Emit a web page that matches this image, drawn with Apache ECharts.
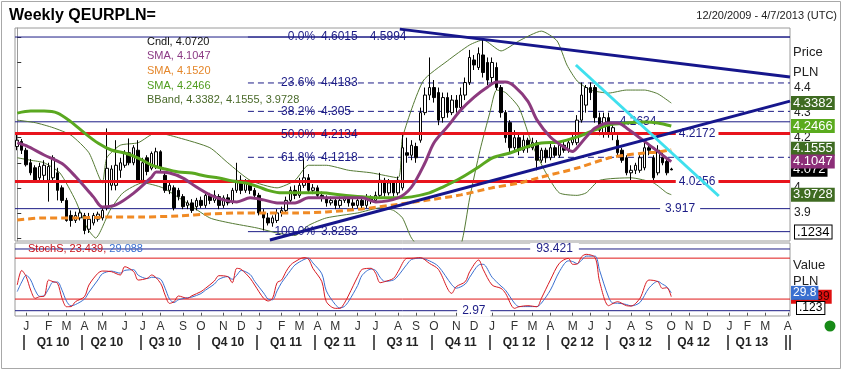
<!DOCTYPE html>
<html><head><meta charset="utf-8">
<script src="https://cdn.jsdelivr.net/npm/echarts@6/dist/echarts.min.js"></script>
<style>html,body{margin:0;padding:0;background:#fff}#c{width:843px;height:371px}</style>
</head><body><div id="c"></div>
<script>
// ---------------- DATA ----------------
const firstWeek = '2009-12-20';
const weekTotal = 173; // 12/20/2009 .. 4/7/2013
const monthLetters = ['J','F','M','A','M','J','J','A','S','O','N','D'];
const quarterNames = ['Q1 10','Q2 10','Q3 10','Q4 10','Q1 11','Q2 11','Q3 11','Q4 11','Q1 12','Q2 12','Q3 12','Q4 12','Q1 13'];

const opens = [4.165,4.185,4.150,4.100,4.080,4.040,4.050,4.030,4.040,4.060,
4.000,3.950,3.890,3.870,3.880,3.890,3.835,3.860,3.875,3.880,
3.920,4.010,4.010,4.070,4.090,4.140,4.100,4.150,4.030,4.120,
4.078,4.085,4.144,4.050,3.990,4.000,3.990,3.965,3.930,3.940,
3.925,3.950,3.930,3.970,3.950,3.965,3.930,3.960,3.945,3.990,
4.030,3.990,4.020,3.990,3.970,3.900,3.880,3.860,3.870,3.900,
3.910,3.950,3.990,3.970,4.010,4.040,3.990,4.000,3.970,3.960,
3.940,3.950,3.930,3.950,3.960,3.940,3.930,3.950,3.930,3.960,
3.950,3.970,4.030,3.980,4.020,3.980,4.000,4.140,4.130,4.165,
4.190,4.300,4.370,4.400,4.380,4.280,4.360,4.300,4.350,4.320,
4.370,4.420,4.510,4.480,4.530,4.500,4.440,4.480,4.400,4.300,
4.260,4.160,4.200,4.150,4.190,4.160,4.180,4.110,4.150,4.120,
4.160,4.130,4.170,4.150,4.180,4.180,4.270,4.330,4.400,4.400,
4.280,4.220,4.280,4.220,4.190,4.150,4.120,4.060,4.070,4.070,
4.080,4.160,4.120,4.060,4.120,4.105,4.075];
const closes = [4.190,4.150,4.092,4.060,4.030,4.085,4.090,4.085,4.120,3.990,
3.950,3.870,3.870,3.890,3.900,3.830,3.875,3.890,3.895,3.910,
4.078,4.075,4.090,4.100,4.140,4.100,4.160,4.030,4.100,4.065,
4.137,4.144,4.078,3.990,4.010,3.920,3.965,3.925,3.940,3.910,
3.950,3.930,3.970,3.950,3.970,3.930,3.960,3.940,3.990,4.030,
3.990,4.020,3.990,3.970,3.900,3.880,3.860,3.880,3.900,3.910,
3.950,3.990,3.970,4.010,4.040,3.990,4.000,3.970,3.960,3.940,
3.950,3.930,3.950,3.960,3.940,3.930,3.950,3.930,3.960,3.950,
3.970,4.030,3.980,4.020,3.980,4.030,4.160,4.130,4.170,4.120,
4.300,4.370,4.400,4.360,4.270,4.360,4.300,4.350,4.320,4.370,
4.420,4.520,4.490,4.535,4.460,4.430,4.500,4.400,4.300,4.200,
4.160,4.200,4.150,4.190,4.160,4.180,4.110,4.150,4.120,4.160,
4.130,4.170,4.150,4.180,4.200,4.270,4.370,4.400,4.380,4.280,
4.230,4.280,4.220,4.240,4.140,4.110,4.060,4.070,4.090,4.120,
4.160,4.150,4.040,4.150,4.100,4.060,4.072];
const highs = [4.215,4.195,4.160,4.115,4.090,4.100,4.110,4.100,4.130,4.080,
4.010,3.960,3.910,3.905,3.915,3.900,3.900,3.900,3.905,3.920,
4.237,4.090,4.190,4.120,4.150,4.197,4.170,4.190,4.120,4.130,
4.145,4.160,4.150,4.060,4.020,4.010,4.000,3.975,3.950,3.955,
3.960,3.965,3.985,3.980,3.990,3.975,3.970,3.975,4.000,4.100,
4.050,4.035,4.030,4.000,3.980,3.915,3.900,3.890,3.915,3.925,
3.965,4.005,4.010,4.040,4.120,4.055,4.015,4.010,3.985,3.970,
3.965,3.960,3.965,3.975,3.970,3.955,3.965,3.960,3.975,3.970,
3.985,4.060,4.040,4.035,4.030,4.045,4.220,4.200,4.190,4.180,
4.320,4.400,4.520,4.430,4.400,4.380,4.380,4.370,4.370,4.400,
4.440,4.550,4.530,4.560,4.597,4.520,4.520,4.500,4.410,4.310,
4.270,4.230,4.220,4.210,4.200,4.200,4.190,4.160,4.160,4.175,
4.170,4.180,4.185,4.190,4.220,4.290,4.420,4.410,4.420,4.410,
4.300,4.300,4.300,4.260,4.210,4.160,4.130,4.090,4.100,4.130,
4.180,4.175,4.130,4.170,4.140,4.120,4.080];
const lows = [4.150,4.135,4.085,4.050,4.020,4.030,4.020,3.945,4.030,3.950,
3.940,3.865,3.845,3.860,3.870,3.815,3.820,3.850,3.865,3.870,
3.910,3.990,3.990,4.040,4.080,4.090,4.090,4.020,4.020,4.050,
4.070,4.075,4.060,3.980,3.975,3.910,3.950,3.915,3.915,3.900,
3.910,3.920,3.920,3.935,3.940,3.915,3.920,3.930,3.935,3.980,
3.975,3.980,3.975,3.955,3.890,3.830,3.850,3.845,3.860,3.885,
3.900,3.940,3.955,3.960,4.000,3.980,3.975,3.960,3.945,3.925,
3.930,3.915,3.920,3.940,3.925,3.915,3.920,3.915,3.920,3.935,
3.940,3.960,3.965,3.970,3.965,3.970,3.990,4.100,4.110,4.100,
4.180,4.290,4.350,4.340,4.250,4.260,4.280,4.290,4.300,4.310,
4.350,4.410,4.470,4.470,4.440,4.410,4.420,4.390,4.280,4.180,
4.140,4.140,4.130,4.140,4.140,4.150,4.070,4.100,4.100,4.110,
4.120,4.120,4.140,4.140,4.170,4.170,4.260,4.300,4.350,4.260,
4.210,4.200,4.200,4.190,4.130,4.100,4.050,4.025,4.055,4.060,
4.070,4.130,4.030,4.050,4.090,4.050,4.070];

// moving averages (week index, value)
const smaPurpleW = [0,2,6,10,13,17,19,22,26,30,31,34,37,40,43,46,49,52,55,58,62,65,69,73,77,80,85,88,91,93,96,99,102,105,107,109,111,114,116,119,122,124,125,127,129,132,134,136,139,142,144,146];
const smaPurpleV = [4.180,4.168,4.131,4.097,4.045,3.964,3.924,3.932,3.979,4.043,4.063,4.059,4.039,4.003,3.972,3.952,3.944,3.960,3.952,3.940,3.940,3.960,3.960,3.960,3.960,3.944,3.960,4.003,4.099,4.179,4.243,4.310,4.362,4.402,4.422,4.422,4.405,4.345,4.271,4.203,4.163,4.145,4.160,4.203,4.239,4.259,4.259,4.239,4.199,4.159,4.131,4.1047];
const smaGreenW = [0,3,6,9,12,15,18,21,24,27,30,33,36,39,42,45,48,51,54,56,59,63,68,72,77,81,85,88,92,95,99,103,106,110,113,117,121,125,129,132,136,140,143,146];
const smaGreenV = [4.298,4.306,4.306,4.298,4.263,4.219,4.179,4.151,4.139,4.119,4.091,4.075,4.063,4.059,4.047,4.039,4.027,4.019,4.003,3.990,3.980,3.980,3.980,3.972,3.964,3.960,3.960,3.964,3.980,4.003,4.039,4.083,4.119,4.139,4.159,4.179,4.183,4.203,4.231,4.251,4.259,4.263,4.259,4.2466];
const smaOrangeW = [0,6,13,21,28,36,43,50,56,62,69,77,84,92,99,106,112,117,125,132,136,140,143,146];
const smaOrangeV = [3.872,3.880,3.880,3.884,3.884,3.888,3.896,3.900,3.900,3.900,3.904,3.916,3.932,3.952,3.972,4.000,4.019,4.043,4.079,4.119,4.131,4.139,4.143,4.152];
const bbUpperW = [0,4,8,12,16,19,20,23,27,31,36,43,47,52,58,62,65,69,74,79,85,86,90.6,96,101,104,108,112,117,120.5,122.7,125,128,132,136,140,143,146];
const bbUpperV = [4.270,4.260,4.240,4.210,4.140,4.020,4.120,4.170,4.180,4.220,4.200,4.160,4.100,4.030,4.000,4.030,4.090,4.090,4.070,4.060,4.040,4.200,4.426,4.506,4.570,4.590,4.546,4.586,4.625,4.586,4.490,4.426,4.390,4.378,4.390,4.390,4.375,4.3382];
const bbLowerW = [0,3,6,9.5,13,15.6,17.5,20.7,23.6,28,32.5,37,43,47.5,53.5,58,62,65,69,76,81,84,86,88,91,96,99,101,103.3,105.5,107,109,112,115,118,121,125,127,130,137,142,145,146];
const bbLowerV = [4.120,4.110,4.100,4.060,3.950,3.840,3.800,3.910,3.980,4.020,4.000,3.950,3.880,3.860,3.840,3.820,3.810,3.850,3.880,3.900,3.920,3.910,3.880,3.800,3.740,3.720,3.770,3.960,4.150,4.300,4.390,4.380,4.320,4.170,4.060,3.980,3.970,3.980,4.030,4.040,4.020,3.980,3.9728];

// stochastic
const stochRedW = [0,1,2,3,4,5,6,7,8,9,10,11,12,13,15,16,18,19,21,23,24,26,27,29,30,32,33,34,35,36,38,39,41,42,44,45,47,48,49,50,52,53,55,56,57,58,59,60,61,62,64,65,66,68,69,71,72,73,74,76,77,79,80,81,82,84,85,87,88,90,92,94,97,98,100,101,103,104,106,108,109,111,112,114,116,117,119,121,123,124,125,126,127,129,130,132,133,134,136,137,139,141,143,144,145,146];
const stochRedV = [40.6,62,52.8,33.3,21.1,23.5,24,47.9,45.5,43.1,21.1,8.8,9,16.2,23.5,40.6,57.8,61.1,60.2,55.3,67.5,60.2,47.9,50.4,55.3,43.1,26,13.7,16.2,24.5,21.1,24.9,30.9,35.7,46.5,54.3,52.8,44,65.1,63.6,50.4,40.6,21.1,17.2,21.1,44,47.9,60.2,69.9,74.8,80.7,78.8,65.1,45.5,16.2,6.4,6.4,13.7,26,52.8,63.6,65.1,57.8,44,45.5,50.4,60.2,79.7,79.7,80.7,72.4,63.6,28.4,38.2,45.5,60.2,77.3,63.6,40.6,35.7,28.4,6.4,8.8,10.3,8.8,21.1,47.9,72.4,79.7,70.9,71.4,82.2,85.6,80.7,45.5,10.3,13.7,16.2,10.3,9.8,21.1,47.9,45.5,35.7,36.7,23.439];
const stochBlueW = stochRedW;
const stochBlueV = [31,45,55,48,33,24,25,35,45,45,33,17,10,12,20,30,48,57,61,58,62,63,55,50,52,49,36,20,15,19,22,23,28,33,42,49,53,49,55,62,56,46,29,20,19,32,44,53,62,70,78,80,73,57,32,12,7,9,17,40,55,64,62,52,46,48,54,71,78,80,76,68,41,36,42,52,70,71,52,39,33,14,9,9,9,14,33,60,76,75,72,77,83,83,62,23,14,14,12,10,15,36,46,42,38,29.088];

// reference levels
const fibPct = ['0.0%','23.6%','38.2%','50.0%','61.8%','100.0%'];
const fibVal = [4.6015,4.4183,4.305,4.2134,4.1218,3.8253];
const fibDashed = [false,true,true,true,true,false];
const navyLevels = [4.6015,4.2634,3.917];
const redLevels = [4.2172,4.0256];
const stochNavyLevels = [93.421,2.97];
const stochRedLevels = [80,20];
// trend lines (week index, price)
const trendDownW = [85.4,172.5], trendDownV = [4.633,4.442];
const trendUpW = [56.4,172.5], trendUpV = [3.792,4.346];
const trendCyanW = [124.7,156.6], trendCyanV = [4.490,3.9675];
// right-hand value boxes
const lastBoxes = [
  {v:4.3382, t:'4.3382', bg:'#3f6b22'},
  {v:4.2466, t:'4.2466', bg:'#5aab1e'},
  {v:4.1555, t:'4.1555', bg:'#3f6b22'},
  {v:4.0720, t:'4.072',  bg:'#000000'},
  {v:4.1047, t:'4.1047', bg:'#8c2e78'},
  {v:3.9728, t:'3.9728', bg:'#3f6b22'}
];

// ---------------- BUILD ----------------
const FONT = '"Liberation Sans", Arial, sans-serif';
const NAVY = '#1c1c86';
const weeks = [];
const t0 = Date.parse(firstWeek + 'T00:00:00Z');
for (let k = 0; k < weekTotal; k++) weeks.push(new Date(t0 + k * 7 * 86400000).toISOString().slice(0,10));
const dInfo = s => ({y:+s.slice(0,4), m:+s.slice(5,7)-1, d:+s.slice(8,10)});
const isMonthStart = (i, s) => dInfo(s).d <= 7;
const isQuarterStart = (i, s) => { const a = dInfo(s); return a.m % 3 === 0 && a.d <= 7; };
const isQuarterMid = (i, s) => { const a = dInfo(s); return a.m % 3 === 1 && a.d >= 8 && a.d <= 14; };
const quarterOf = s => { const a = dInfo(s); return quarterNames[(a.y - 2010) * 4 + Math.floor(a.m / 3)] || ''; };

const zip = (a, b) => a.map((x, k) => [x, b[k]]);
const candleData = opens.map((o, k) => [o, closes[k], lows[k], highs[k]]);

function pline(xs, vs, color, width, z, extra) {
  return Object.assign({type:'line', xAxisIndex:1, yAxisIndex:0, data: zip(xs, vs), symbol:'none', silent:true,
    lineStyle:{color, width}, z, animation:false}, extra || {});
}
const series = [];
navyLevels.forEach(v => series.push(pline([-0.5,172.5],[v,v],NAVY,1,2)));
fibVal.forEach((v,k) => series.push(pline([51.5,172.5],[v,v],NAVY,1,2,{lineStyle:{color:NAVY,width:1,type: fibDashed[k] ? [6,4] : 'solid'}})));
series.push({type:'candlestick', xAxisIndex:0, yAxisIndex:0, data: candleData, barWidth:3, z:3, silent:true,
  itemStyle:{color:'#ffffff', color0:'#000000', borderColor:'#000000', borderColor0:'#000000', borderWidth:1}});
series.push(pline(bbUpperW, bbUpperV, '#557a34', 1, 3, {smooth:0.2}));
series.push(pline(bbLowerW, bbLowerV, '#557a34', 1, 3, {smooth:0.2}));
redLevels.forEach(v => series.push(pline([-0.5,172.5],[v,v],'#e8141c',3,4)));
series.push(pline(smaOrangeW, smaOrangeV, '#f08a24', 3, 6, {smooth:0.3, lineStyle:{color:'#f08a24', width:3, type:[7,4]}}));
series.push(pline(smaGreenW, smaGreenV, '#5aa820', 3, 6, {smooth:0.3}));
series.push(pline(smaPurpleW, smaPurpleV, '#8c3a7e', 3, 6, {smooth:0.3}));
series.push(pline(trendDownW, trendDownV, '#16168c', 3, 7));
series.push(pline(trendUpW, trendUpV, '#16168c', 3, 7));
series.push(pline(trendCyanW, trendCyanV, '#3fe0ee', 3, 8));
function sline(xs, vs, color, width, z, extra) {
  return Object.assign({type:'line', xAxisIndex:4, yAxisIndex:1, data: zip(xs, vs), symbol:'none', silent:true,
    lineStyle:{color, width}, z, animation:false}, extra || {});
}
stochNavyLevels.forEach(v => series.push(sline([-0.5,172.5],[v,v],NAVY,1,2)));
stochRedLevels.forEach(v => series.push(sline([-0.5,172.5],[v,v],'#e01818',1,2)));
series.push(sline(stochBlueW, stochBlueV, '#3a6fd0', 1, 4, {smooth:0.3}));
series.push(sline(stochRedW, stochRedV, '#d81a22', 1, 5, {smooth:0.3}));

const option = {
  animation:false,
  backgroundColor:'#ffffff',
  grid:[
    {left:15, top:28, width:775, height:213, show:true, borderColor:'#9a9a9a', borderWidth:1, backgroundColor:'#fff'},
    {left:15, top:243, width:775, height:73, show:true, borderColor:'#9a9a9a', borderWidth:1, backgroundColor:'#fff'}
  ],
  xAxis:[
    {type:'category', gridIndex:0, data:weeks, show:false},
    {type:'value', gridIndex:0, min:-0.5, max:172.5, show:false},
    {type:'category', gridIndex:1, position:'bottom', data:weeks, axisLine:{show:false},
      axisTick:{show:true, alignWithLabel:true, length:3, interval:isMonthStart, lineStyle:{color:'#555'}},
      axisLabel:{interval:isMonthStart, formatter: s => monthLetters[dInfo(s).m], color:'#333', fontSize:12, fontFamily:FONT, margin:5},
      splitLine:{show:false}},
    {type:'category', gridIndex:1, position:'bottom', data:weeks, offset:19, axisLine:{show:false},
      axisTick:{show:true, length:15, interval:isQuarterStart, lineStyle:{color:'#222', width:1.5}},
      axisLabel:{interval:isQuarterMid, formatter: s => quarterOf(s), color:'#222', fontSize:12, fontWeight:'bold', fontFamily:FONT, margin:2},
      splitLine:{show:false}},
    {type:'value', gridIndex:1, min:-0.5, max:172.5, show:false}
  ],
  yAxis:[
    {type:'value', gridIndex:0, position:'right', min:3.788, max:4.6375, splitNumber:8,
      splitLine:{show:false}, axisLine:{show:true, lineStyle:{color:'#9a9a9a'}},
      axisTick:{show:true, length:4, lineStyle:{color:'#333'}},
      axisLabel:{showMinLabel:false, showMaxLabel:false, color:'#222', fontSize:12, fontFamily:FONT, margin:4, padding:[4,0,0,0],
        formatter: v => (v > 4.45 || v < 3.85) ? '' : String(Math.round(v*10)/10)}},
    {type:'value', gridIndex:1, min:-4.8, max:102.2, show:false}
  ],
  series
};

const chart = echarts.init(document.getElementById('c'));
chart.setOption(option);

const P = (i, v) => chart.convertToPixel({xAxisIndex:1, yAxisIndex:0}, [i, v]);
const PS = (i, v) => chart.convertToPixel({xAxisIndex:4, yAxisIndex:1}, [i, v]);
const PY = v => chart.convertToPixel({yAxisIndex:0}, v);
const PYS = v => chart.convertToPixel({yAxisIndex:1}, v);
const g = [];
function text(x, y, t, fill, font, z, extra) {
  g.push({type:'text', z: z || 5, silent:true, style:Object.assign({x, y, text:t, fill, font, align:'left', verticalAlign:'middle'}, extra || {})});
}
const f11 = '11px ' + FONT, f12 = '12px ' + FONT, f13 = '13px ' + FONT;
g.push({type:'rect', z:0, silent:true, shape:{x:1.5, y:1.5, width:839, height:367}, style:{fill:'none', stroke:'#a8a8a8', lineWidth:1}});
text(9, 16, 'Weekly QEURPLN=', '#000', 'bold 16px ' + FONT, 5);
text(837, 16, '12/20/2009 - 4/7/2013 (UTC)', '#222', f11, 5, {align:'right'});
text(147, 42, 'Cndl, 4.0720', '#111', f11, 9);
text(147, 56, 'SMA, 4.1047', '#8b3a84', f11, 9);
text(147, 71, 'SMA, 4.1520', '#e4862a', f11, 9);
text(147, 86, 'SMA, 4.2466', '#4f9c1e', f11, 9);
text(147, 100, 'BBand, 4.3382, 4.1555, 3.9728', '#4a6a2a', f11, 9);
g.push({type:'text', z:9, silent:true, style:{x:28, y:249, text:'{r|StochS, 23.439,} {b|29.088}', verticalAlign:'middle', font:f11,
  rich:{r:{fill:'#c8141c', font:f11}, b:{fill:'#3a6fd0', font:f11}}}});
fibVal.forEach((v, k) => {
  const a = P(66.5, v), b = P(67.8, v);
  text(a[0], a[1], fibPct[k], NAVY, f12, 5, {align:'right'});
  text(b[0], b[1], String(v), NAVY, f12, 5);
});
{ const c = P(78.7, 4.6015); text(c[0], c[1], '4.5994', NAVY, f12, 5); }
{ const c = P(134.5, 4.2634); text(c[0], c[1], '4.2634', NAVY, f12, 5); }
{ const c = P(143.5, 3.917); text(c[0], c[1], '3.917', NAVY, f12, 5, {backgroundColor:'#fff', padding:[0,5]}); }
redLevels.forEach(v => { const c = P(147.0, v); text(c[0], c[1], v.toFixed(4), NAVY, f12, 5, {backgroundColor:'#fff', padding:[0,3]}); });
{ const c = PS(114.5, 93.421); text(c[0], c[1], '93.421', NAVY, f12, 5, {backgroundColor:'#fff', padding:[0,6]}); }
{ const c = PS(98.2, 2.97); text(c[0], c[1], '2.97', NAVY, f12, 5, {backgroundColor:'#fff', padding:[0,5]}); }
text(793, 52, 'Price', '#222', f13, 5);
text(793, 72, 'PLN', '#222', f13, 5);
text(793, 265, 'Value', '#222', f13, 5);
text(793, 281, 'PLN', '#222', f13, 5);
lastBoxes.forEach((b, k) => text(791, PY(b.v), b.t, '#fff', f13, 20 + k, {backgroundColor:b.bg, padding:[1,2,0,2]}));
text(795, 232, '.1234', '#000', f13, 20, {backgroundColor:'#fff', borderColor:'#000', borderWidth:1, padding:[0,2]});
text(791, PYS(23.439), '23.439', '#3a0000', f12, 20, {backgroundColor:'#e01010', padding:[1,2]});
text(791, PYS(29.088), '29.8', '#fff', f12, 21, {backgroundColor:'#3a70d0', padding:[1,2]});
text(797, 308, '.123', '#000', f12, 20, {backgroundColor:'#fff', borderColor:'#000', borderWidth:1, padding:[0,2]});
g.push({type:'circle', z:5, silent:true, shape:{cx:830, cy:326, r:5.5}, style:{fill:'#178a17'}});
chart.setOption({graphic:g});
</script>
</body></html>
